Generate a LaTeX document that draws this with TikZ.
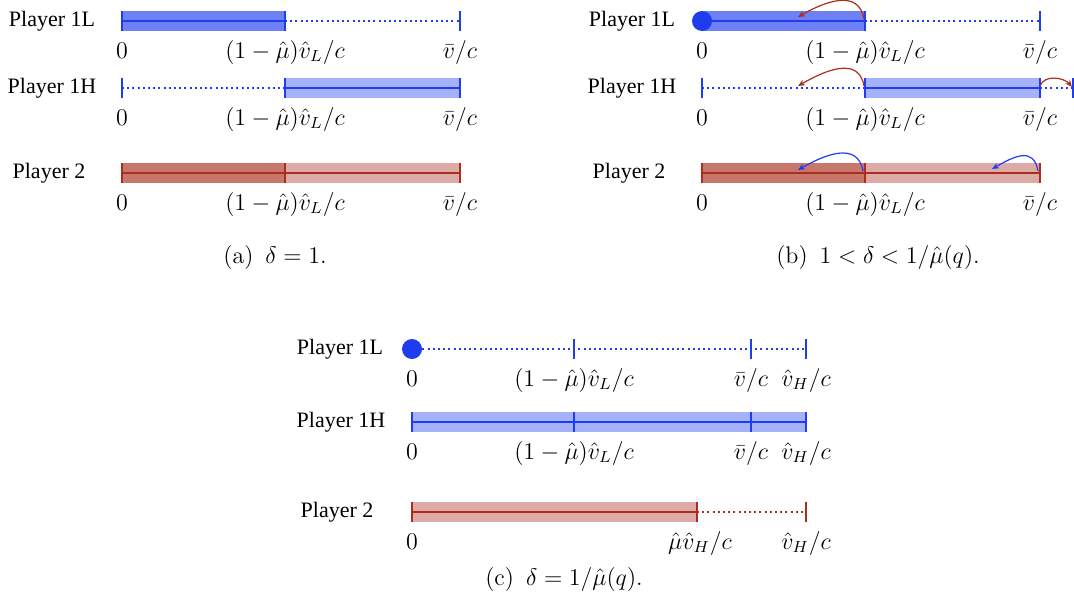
\documentclass[tikz,border=0pt]{standalone}
\usepackage{fontspec}
\newfontfamily\playerfont{Liberation Serif}
\usepackage{xcolor}
\usepackage{tikz}
\usetikzlibrary{arrows.meta}

\definecolor{pblue}{RGB}{30,60,240}
\definecolor{pred}{RGB}{170,45,30}

\begin{document}
\begin{tikzpicture}[x=0.5pt,y=0.5pt,
    axisline/.style={line width=1pt},
    dotaxis/.style={line width=1pt,dash pattern=on 1pt off 1.6pt},
    tickmark/.style={line width=1pt},
    player/.style={font=\playerfont\fontsize{11}{13}\selectfont},
    val/.style={anchor=base,font=\fontsize{11.5}{14}\selectfont},
    capt/.style={anchor=base,font=\fontsize{12}{14}\selectfont},
    jump/.style={line width=0.6pt,-{Stealth[length=3.5pt,width=3pt]}},
    startdot/.style={circle,fill=pblue,inner sep=0pt,minimum size=10pt}]
  \useasboundingbox (0,0) rectangle (1074,602);

  % Panels (a) and (b): same three lines, shifted
  \foreach \dx/\p in {0/a,580/b} {
    % Player 1L
    \node[player] (\p-1L) at (52+\dx,581) {Player 1L};
    \fill[pblue!65] (122+\dx,571) rectangle (285+\dx,591);
    \draw[pblue,axisline] (122+\dx,581) -- (285+\dx,581);
    \draw[pblue,dotaxis] (285+\dx,581) -- (460+\dx,581);
    % Player 1H
    \node[player] (\p-1H) at (52+\dx,514) {Player 1H};
    \fill[pblue!40] (285+\dx,504) rectangle (460+\dx,524);
    \draw[pblue,dotaxis] (122+\dx,514) -- (285+\dx,514);
    \draw[pblue,axisline] (285+\dx,514) -- (460+\dx,514);
    % Player 2
    \node[player] (\p-2) at (49+\dx,429) {Player 2};
    \fill[pred!65] (122+\dx,419) rectangle (285+\dx,439);
    \fill[pred!40] (285+\dx,419) rectangle (460+\dx,439);
    \draw[pred,axisline] (122+\dx,429) -- (460+\dx,429);
    % ticks and values
    \foreach \y/\c in {581/pblue,514/pblue,429/pred} {
      \foreach \x in {122,285,460} \draw[\c,tickmark] (\x+\dx,\y-10) -- (\x+\dx,\y+10);
      \node[val] at (122+\dx,\y-37) {$0$};
      \node[val] at (285+\dx,\y-37) {$(1-\hat{\mu})\hat{v}_L/c$};
      \node[val] at (460+\dx,\y-37) {$\bar{v}/c$};
    }
  }

  % Panel (b) extras
  \node[startdot] (b-dot) at (702,581) {};
  \draw[pblue,dotaxis] (1040,514) -- (1073,514);
  \draw[pblue,tickmark] (1073,504) -- (1073,524);
  \coordinate (b1Lfrom) at (864,583);
  \coordinate (b1Lto) at (798,585);
  \coordinate (b1Hfrom) at (864,516);
  \coordinate (b1Hto) at (798,516);
  \coordinate (b1Hfrom2) at (1040,516);
  \coordinate (b1Hto2) at (1072,515);
  \coordinate (b2from) at (863,431);
  \coordinate (b2to) at (798,432);
  \coordinate (b2from2) at (1038,431);
  \coordinate (b2to2) at (992,433);
  \draw[jump,pred] (b1Lfrom) to[out=100,in=30,looseness=1.2] (b1Lto);
  \draw[jump,pred] (b1Hfrom) to[out=100,in=30,looseness=1.2] (b1Hto);
  \draw[jump,pred] (b1Hfrom2) to[out=70,in=130] (b1Hto2);
  \draw[jump,pblue] (b2from) to[out=100,in=30,looseness=1.2] (b2to);
  \draw[jump,pblue] (b2from2) to[out=100,in=30,looseness=1.4] (b2to2);

  % Panel (c)
  \node[player] (c-1L) at (340,253) {Player 1L};
  \draw[pblue,dotaxis] (412,253) -- (806,253);
  \node[player] (c-1H) at (341,180) {Player 1H};
  \fill[pblue!40] (412,170) rectangle (806,190);
  \draw[pblue,axisline] (412,180) -- (806,180);
  \foreach \y in {253,180} {
    \foreach \x in {412,574,751,806} \draw[pblue,tickmark] (\x,\y-10) -- (\x,\y+10);
    \node[val] at (412,\y-37) {$0$};
    \node[val] at (574,\y-37) {$(1-\hat{\mu})\hat{v}_L/c$};
    \node[val] at (751,\y-37) {$\bar{v}/c$};
    \node[val] at (806,\y-37) {$\hat{v}_H/c$};
  }
  \node[startdot] (c-dot) at (412,253) {};
  \node[player] (c-2) at (337,90) {Player 2};
  \fill[pred!40] (412,80) rectangle (697,100);
  \draw[pred,axisline] (412,90) -- (697,90);
  \draw[pred,dotaxis] (697,90) -- (806,90);
  \foreach \x in {412,697,806} \draw[pred,tickmark] (\x,80) -- (\x,100);
  \node[val] at (412,53) {$0$};
  \node[val] at (700,53) {$\hat{\mu}\hat{v}_H/c$};
  \node[val] at (806,53) {$\hat{v}_H/c$};

  % Captions
  \node[capt] (capa) at (275,339) {(a)\hspace{.5em}$\delta=1$.};
  \node[capt] (capb) at (878,339) {(b)\hspace{.5em}$1<\delta<1/\hat{\mu}(q)$.};
  \node[capt] (capc) at (564,17) {(c)\hspace{.5em}$\delta=1/\hat{\mu}(q)$.};
\end{tikzpicture}
\end{document}
